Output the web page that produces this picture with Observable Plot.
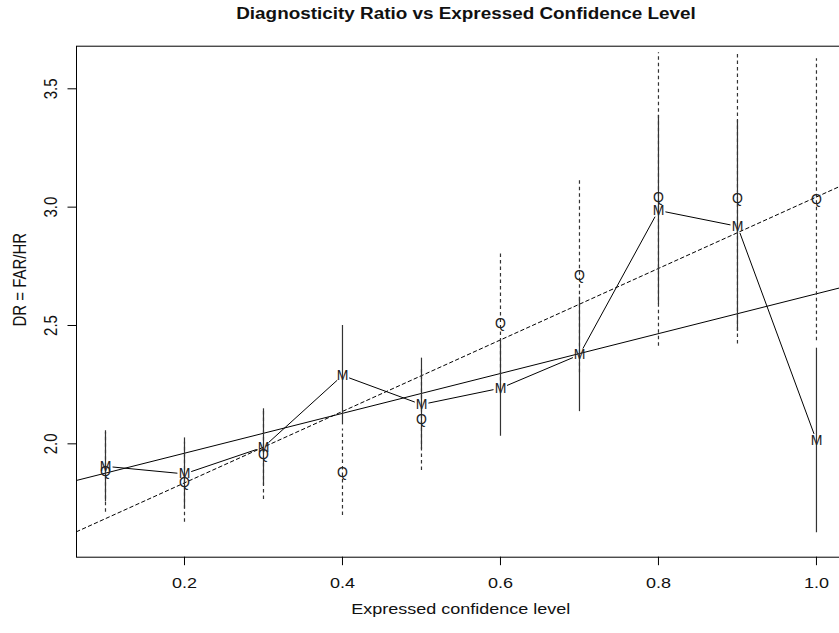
<!DOCTYPE html>
<html>
<head>
<meta charset="utf-8">
<script src="https://cdn.jsdelivr.net/npm/d3@7"></script>
<script src="https://cdn.jsdelivr.net/npm/@observablehq/plot@0.6"></script>
<style>
html, body { margin: 0; padding: 0; background: #fff; overflow: hidden; width: 839px; height: 633px; }
#title { position: relative; height: 30px; width: 845px; }
#title span {
  position: absolute; left: 466px; top: 5.5px; white-space: nowrap;
  font: bold 16px "Liberation Sans", Arial, sans-serif; line-height: 16px; color: #111;
  transform: translateX(-50%) scaleX(1.18); transform-origin: center;
}
#chart { width: 845px; }
</style>
</head>
<body>
<div id="title"><span>Diagnosticity Ratio vs Expressed Confidence Level</span></div>
<div id="chart"></div>
<script>
// ---- data ----
const conf   = [0.1, 0.2, 0.3, 0.4, 0.5, 0.6, 0.7, 0.8, 0.9, 1.0];
const mMean  = [1.905, 1.873, 1.986, 2.289, 2.166, 2.235, 2.376, 2.986, 2.919, 2.014];
const mLow   = [1.755, 1.725, 1.824, 2.080, 1.975, 2.032, 2.136, 2.588, 2.475, 1.624];
const mHigh  = [2.049, 2.025, 2.148, 2.500, 2.362, 2.440, 2.620, 3.387, 3.366, 2.404];
const qMean  = [1.883, 1.838, 1.955, 1.880, 2.104, 2.507, 2.711, 3.042, 3.035, 3.031];
const qLow   = [1.711, 1.669, 1.765, 1.697, 1.887, 2.210, 2.300, 2.412, 2.422, 2.435];
const qHigh  = [2.055, 2.007, 2.145, 2.063, 2.320, 2.805, 3.124, 3.652, 3.652, 3.627];
const fitName      = ["M", "Q"];
const fitIntercept = [1.792, 1.533];
const fitSlope     = [0.842, 1.510];
const xTicks = [0.2, 0.4, 0.6, 0.8, 1.0];
const yTicks = [2.0, 2.5, 3.0, 3.5];
const xTitle = "Expressed confidence level";
const yTitle = "DR = FAR/HR";

const xDomain = [0.0633, 1.036];
const yDomain = [1.521, 3.680];

const rows = conf.map((c, i) => ({c, m: mMean[i], mLo: mLow[i], mHi: mHigh[i], q: qMean[i], qLo: qLow[i], qHi: qHigh[i]}));
const segs = conf.slice(1).map((c, i) => ({x1: conf[i], y1: mMean[i], x2: c, y2: mMean[i + 1]}));
const fits = fitName.map((n, k) => xDomain.map(x => ({n, x, y: fitIntercept[k] + fitSlope[k] * x})));

const ink = "#000";
const bar = "#333";
const chart = Plot.plot({
  width: 845,
  height: 603,
  marginLeft: 76,
  marginRight: 0.6,
  marginTop: 15.7,
  marginBottom: 76.3,
  x: {domain: xDomain},
  y: {domain: yDomain},
  style: {fontFamily: "'Liberation Sans', Arial, sans-serif", fontSize: "15px", color: "#111", background: "#fff", overflow: "visible"},
  marks: [
    Plot.line(fits[0], {x: "x", y: "y", stroke: ink, strokeWidth: 1, clip: true}),
    Plot.line(fits[1], {x: "x", y: "y", stroke: ink, strokeWidth: 1, strokeDasharray: "3.5,3", clip: true}),
    Plot.ruleX(rows, {x: "c", y1: "qLo", y2: "qHi", stroke: bar, strokeWidth: 1.2, strokeDasharray: "3.5,3", clip: true}),
    Plot.ruleX(rows, {x: "c", y1: "mLo", y2: "mHi", stroke: bar, strokeWidth: 1.2, clip: true}),
    Plot.arrow(segs, {x1: "x1", y1: "y1", x2: "x2", y2: "y2", headLength: 0, inset: 7.5, stroke: ink, strokeWidth: 1}),
    Plot.text(rows, {x: "c", y: "q", text: () => "Q", fontSize: 14, fill: "#222"}),
    Plot.text(rows, {x: "c", y: "m", text: () => "M", fontSize: 14, fill: "#222"}),
    Plot.frame({stroke: ink, strokeWidth: 1}),
    Plot.axisX({ticks: xTicks, tickSize: 8.5, tickPadding: 11.4, tickFormat: d => d.toFixed(1), label: null, stroke: ink}),
    Plot.axisY({ticks: yTicks, tickSize: 8.5, tickPadding: 10.8, tickRotate: -90, tickFormat: d => d.toFixed(1), label: null, stroke: ink}),
    Plot.text([xTitle], {frameAnchor: "bottom", text: d => d, dy: 57, textAnchor: "middle", lineAnchor: "bottom", fontSize: 15}),
    Plot.text([yTitle], {frameAnchor: "left", text: d => d, dx: -56, dy: -22, rotate: -90, textAnchor: "middle", lineAnchor: "middle", fontSize: 15})
  ]
});
document.getElementById("chart").appendChild(chart);

// the reference's texts are stretched horizontally by about 1.2
const svg = d3.select(chart);
const stretchLength = function () {
  const len = this.getComputedTextLength();
  d3.select(this).attr("textLength", len * 1.2).attr("lengthAdjust", "spacingAndGlyphs");
};
svg.selectAll('g[aria-label="x-axis tick label"] text').each(stretchLength);
svg.selectAll('g[aria-label="text"] text').filter(function () { return this.textContent === xTitle; }).each(stretchLength);
// rotated texts: widen the glyphs across the page
const stretchRotated = function () {
  const t = this.getAttribute("transform") || "";
  const m = t.match(/translate\(([^)]*)\)(.*)$/);
  if (m) this.setAttribute("transform", `translate(${m[1]}) scale(1.2,1)${m[2]}`);
};
svg.selectAll('g[aria-label="y-axis tick label"] text').each(stretchRotated);
svg.selectAll('g[aria-label="text"] text').filter(function () { return this.textContent === yTitle; }).each(stretchRotated);
</script>
</body>
</html>
